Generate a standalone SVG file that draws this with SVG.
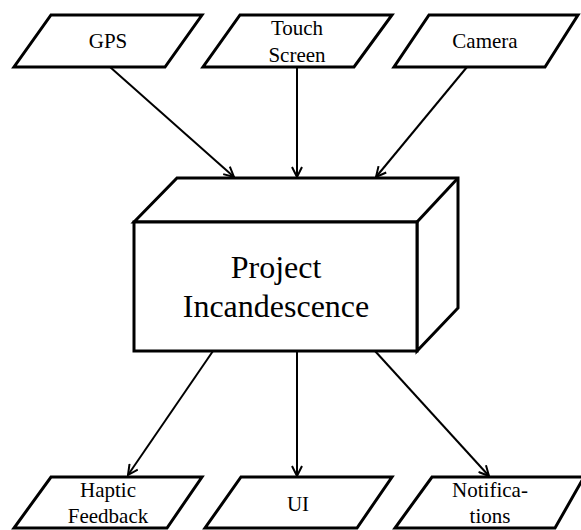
<svg xmlns="http://www.w3.org/2000/svg" width="581" height="530" viewBox="0 0 581 530">
<defs>
<style>
.shape{fill:#fff;stroke:#000;stroke-width:3;stroke-linejoin:miter}
text{font-family:'Liberation Serif',Tinos,'Times New Roman','DejaVu Serif',serif;fill:#000;text-anchor:middle}
.lbl{font-size:21px}
.big{font-size:32px}
.conn{stroke:#000;stroke-width:2;fill:none;marker-end:url(#arr)}
</style>
<marker id="arr" viewBox="0 0 12 12" refX="11" refY="6" markerWidth="12" markerHeight="12" markerUnits="userSpaceOnUse" orient="auto">
<path d="M1,1 L11,6 L1,11" fill="none" stroke="#000" stroke-width="2"/>
</marker>
</defs>
<rect width="581" height="530" fill="#fff"/>
<g id="connectors">
<line class="conn" x1="110" y1="67" x2="234" y2="177"/>
<line class="conn" x1="297" y1="67" x2="297" y2="177"/>
<line class="conn" x1="467" y1="67" x2="376" y2="177"/>
<line class="conn" x1="213" y1="351" x2="128" y2="475"/>
<line class="conn" x1="297" y1="351" x2="297" y2="476"/>
<line class="conn" x1="375" y1="351" x2="489" y2="476"/>
</g>
<g id="gps">
<polygon class="shape" points="51,15 202,15 165,67 14,67"/>
<text class="lbl" x="108" y="48">GPS</text>
</g>
<g id="touch">
<polygon class="shape" points="240,15 392,15 354,67 203,67"/>
<text class="lbl" x="297" y="35">Touch</text>
<text class="lbl" x="297" y="62">Screen</text>
</g>
<g id="camera">
<polygon class="shape" points="429,15 578,15 545,67 394,67"/>
<text class="lbl" x="485" y="48">Camera</text>
</g>
<g id="project">
<polygon class="shape" points="134,222 177,178 458,178 458,308 417,351 417,222"/>
<line x1="417" y1="222" x2="458" y2="178" stroke="#000" stroke-width="3"/>
<rect class="shape" x="134" y="222" width="283" height="129"/>
<text class="big" x="276" y="278">Project</text>
<text class="big" x="276" y="317">Incandescence</text>
</g>
<g id="haptic">
<polygon class="shape" points="51,477 202,477 167,528 14,528"/>
<text class="lbl" x="108" y="497">Haptic</text>
<text class="lbl" x="108" y="523">Feedback</text>
</g>
<g id="ui">
<polygon class="shape" points="241,477 392,477 357,528 205,528"/>
<text class="lbl" x="298" y="511">UI</text>
</g>
<g id="notifications">
<polygon class="shape" points="432,477 584,477 555,528 395,528"/>
<text class="lbl" x="490" y="497">Notifica-</text>
<text class="lbl" x="490" y="523">tions</text>
</g>
</svg>
